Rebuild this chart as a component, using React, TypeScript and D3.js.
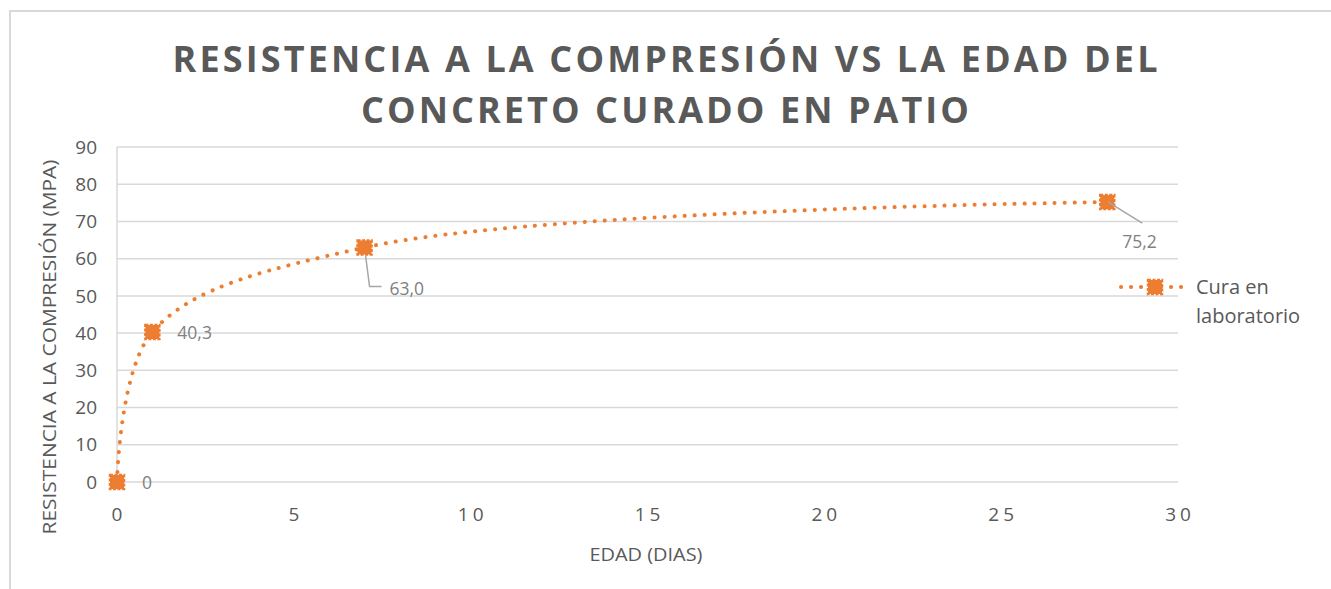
import React from "react";
import * as d3 from "d3";

// Edad del concreto (días) y resistencia a la compresión (MPa)
const edadDias = [0, 1, 7, 28];
const resistencia = [0, 40.3, 63.0, 75.2];
const etiquetas = ["0", "40,3", "63,0", "75,2"];
const xTicks = [0, 5, 10, 15, 20, 25, 30];
const yTicks = [0, 10, 20, 30, 40, 50, 60, 70, 80, 90];
const serieNombre = ["Cura en", "laboratorio"];
const tituloLineas = [
  "RESISTENCIA A LA COMPRESIÓN VS LA EDAD DEL",
  "CONCRETO CURADO EN PATIO",
];

const W = 1331;
const H = 589;
const ORANGE = "#ED7D31";
const GRID = "#d9d9d9";
const TEXT = "#595959";
const LABEL = "#7f7f7f";
const FONT = "'Open Sans', 'DejaVu Sans', sans-serif";

const x = d3.scaleLinear().domain([0, 30]).range([117, 1178]);
const y = d3.scaleLinear().domain([0, 90]).range([482, 147]);

const pts: [number, number][] = edadDias.map((d, i) => [d, resistencia[i]]);
const line = d3
  .line<[number, number]>()
  .x((d) => x(d[0]))
  .y((d) => y(d[1]))
  .curve(d3.curveCatmullRom.alpha(0.5));

function Marker({ cx, cy }: { cx: number; cy: number }) {
  const s = 14;
  return (
    <rect
      x={cx - s / 2}
      y={cy - s / 2}
      width={s}
      height={s}
      fill={ORANGE}
      stroke={ORANGE}
      strokeWidth={2.5}
      strokeDasharray="3 1.5"
    />
  );
}

// Posición de cada etiqueta de datos respecto a su punto
const labelOffsets: { dx: number; dy: number; leader?: [number, number][] }[] = [
  { dx: 25, dy: 1 },
  { dx: 25, dy: 1 },
  { dx: 25, dy: 41, leader: [[1, 8], [5, 39], [17, 39]] },
  { dx: 15, dy: 40, leader: [[1, 0], [35, 21]] },
];

export default function App() {
  return (
    <svg
      width={W}
      height={H}
      style={{ position: "absolute", left: 0, top: 0, background: "#fff" }}
      fontFamily={FONT}
    >
      {/* chart border */}
      <path d={`M10,${H} L10,11 L${W},11`} fill="none" stroke={GRID} strokeWidth={2} />

      {/* title */}
      {tituloLineas.map((t, i) => (
        <text
          key={t}
          x={665}
          y={72 + i * 51}
          textAnchor="middle"
          fontSize={36}
          fontWeight={700}
          fill={TEXT}
          textLength={i === 0 ? 985 : 608}
          lengthAdjust="spacing"
        >
          {t}
        </text>
      ))}

      {/* gridlines */}
      {yTicks.map((t) => (
        <line key={t} x1={x(0)} x2={x(30)} y1={y(t)} y2={y(t)} stroke={GRID} strokeWidth={1.5} />
      ))}
      <line x1={x(0)} x2={x(0)} y1={y(0)} y2={y(90)} stroke={GRID} strokeWidth={1.5} />

      {/* y tick labels */}
      {yTicks.map((t) => (
        <text key={t} x={97} y={y(t)} dy="0.35em" textAnchor="end" fontSize={19} fill={TEXT}>
          {t}
        </text>
      ))}

      {/* x tick labels */}
      {xTicks.map((t) => (
        <text
          key={t}
          x={x(t) + (t >= 10 ? 2 : 0)}
          y={521}
          textAnchor="middle"
          fontSize={19}
          fill={TEXT}
          letterSpacing={t >= 10 ? 4 : 0}
        >
          {t}
        </text>
      ))}

      {/* axis titles */}
      <text
        x={646}
        y={561}
        textAnchor="middle"
        fontSize={18}
        fill={TEXT}
        textLength={113}
        lengthAdjust="spacingAndGlyphs"
      >
        EDAD (DIAS)
      </text>
      <text
        transform="translate(56,347) rotate(-90)"
        textAnchor="middle"
        fontSize={18}
        fill={TEXT}
        textLength={375}
        lengthAdjust="spacingAndGlyphs"
      >
        RESISTENCIA A LA COMPRESIÓN (MPA)
      </text>

      {/* smoothed dotted series */}
      <path
        d={line(pts) ?? ""}
        fill="none"
        stroke={ORANGE}
        strokeWidth={4}
        strokeLinecap="round"
        strokeDasharray="0.1 9.9"
      />

      {pts.map((p, i) => (
        <Marker key={i} cx={x(p[0])} cy={y(p[1])} />
      ))}

      {/* data labels */}
      {pts.map((p, i) => {
        const cx = x(p[0]);
        const cy = y(p[1]);
        const o = labelOffsets[i];
        return (
          <g key={i}>
            {o.leader && (
              <polyline
                points={o.leader.map(([a, b]) => `${cx + a},${cy + b}`).join(" ")}
                fill="none"
                stroke="#a6a6a6"
                strokeWidth={1.5}
              />
            )}
            <text x={cx + o.dx} y={cy + o.dy} dy="0.35em" fontSize={17.5} fill={LABEL}>
              {etiquetas[i]}
            </text>
          </g>
        );
      })}

      {/* legend */}
      <line
        x1={1121}
        x2={1183}
        y1={287}
        y2={287}
        stroke={ORANGE}
        strokeWidth={4}
        strokeLinecap="round"
        strokeDasharray="0.1 9.9"
      />
      <Marker cx={1155} cy={287} />
      {serieNombre.map((s, i) => (
        <text key={s} x={1196} y={294 + i * 29} fontSize={20} fill={TEXT}>
          {s}
        </text>
      ))}
    </svg>
  );
}
